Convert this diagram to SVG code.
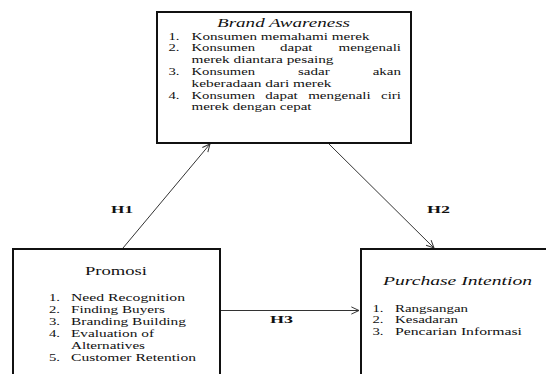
<svg xmlns="http://www.w3.org/2000/svg" width="546" height="374" viewBox="0 0 546 374">
<style>
text{font-family:"Liberation Serif","DejaVu Serif","Times New Roman",serif;fill:#111}
.t{font-size:11px}
.ti{font-size:12px;font-style:italic}
.tp{font-size:12.5px}
.h{font-size:11px;font-weight:bold}
.box{fill:#fff;stroke:#111;stroke-width:2}
.c{fill:none;stroke:#333;stroke-width:1}
</style>
<defs>
<marker id="arr" viewBox="0 0 10 10" refX="9.5" refY="5" markerWidth="9" markerHeight="9" markerUnits="userSpaceOnUse" orient="auto">
<path d="M1,1 L9.5,5 L1,9" fill="none" stroke="#333" stroke-width="1.1"/>
</marker>
</defs>
<rect width="546" height="374" fill="#fff"/>

<g id="connectors">
<line class="c" x1="123" y1="248" x2="210" y2="144" marker-end="url(#arr)"/>
<line class="c" x1="329" y1="144" x2="434" y2="248" marker-end="url(#arr)"/>
<line class="c" x1="221" y1="310.5" x2="359" y2="310.5" marker-end="url(#arr)"/>
<text class="h" x="111" y="213" textLength="22" lengthAdjust="spacingAndGlyphs">H1</text>
<text class="h" x="427" y="213" textLength="23" lengthAdjust="spacingAndGlyphs">H2</text>
<text class="h" x="270" y="323" textLength="23" lengthAdjust="spacingAndGlyphs">H3</text>
</g>

<g id="brand-awareness">
<rect class="box" x="157" y="12" width="254" height="131"/>
<text class="ti" x="217" y="27" textLength="133" lengthAdjust="spacingAndGlyphs">Brand Awareness</text>
<text class="t" x="168.5" y="39.5" textLength="11" lengthAdjust="spacingAndGlyphs">1.</text>
<text class="t" x="191.5" y="39.5" textLength="178" lengthAdjust="spacingAndGlyphs">Konsumen memahami merek</text>
<text class="t" x="168.5" y="51.3" textLength="11" lengthAdjust="spacingAndGlyphs">2.</text>
<text class="t" x="191.5" y="51.3" textLength="63.5" lengthAdjust="spacingAndGlyphs">Konsumen</text>
<text class="t" x="280" y="51.3" textLength="32.5" lengthAdjust="spacingAndGlyphs">dapat</text>
<text class="t" x="338.5" y="51.3" textLength="62.5" lengthAdjust="spacingAndGlyphs">mengenali</text>
<text class="t" x="191.5" y="63.1" textLength="142" lengthAdjust="spacingAndGlyphs">merek diantara pesaing</text>
<text class="t" x="168.5" y="74.9" textLength="11" lengthAdjust="spacingAndGlyphs">3.</text>
<text class="t" x="191.5" y="74.9" textLength="63.5" lengthAdjust="spacingAndGlyphs">Konsumen</text>
<text class="t" x="298" y="74.9" textLength="31.7" lengthAdjust="spacingAndGlyphs">sadar</text>
<text class="t" x="372.7" y="74.9" textLength="28.3" lengthAdjust="spacingAndGlyphs">akan</text>
<text class="t" x="191.5" y="86.7" textLength="140" lengthAdjust="spacingAndGlyphs">keberadaan dari merek</text>
<text class="t" x="168.5" y="98.5" textLength="11" lengthAdjust="spacingAndGlyphs">4.</text>
<text class="t" x="191.5" y="98.5" textLength="63.5" lengthAdjust="spacingAndGlyphs">Konsumen</text>
<text class="t" x="265.3" y="98.5" textLength="32.5" lengthAdjust="spacingAndGlyphs">dapat</text>
<text class="t" x="308.2" y="98.5" textLength="62.5" lengthAdjust="spacingAndGlyphs">mengenali</text>
<text class="t" x="381" y="98.5" textLength="20" lengthAdjust="spacingAndGlyphs">ciri</text>
<text class="t" x="191.5" y="110.3" textLength="120" lengthAdjust="spacingAndGlyphs">merek dengan cepat</text>
</g>

<g id="promosi">
<rect class="box" x="13" y="249" width="207" height="140"/>
<text class="tp" x="85" y="275" textLength="62" lengthAdjust="spacingAndGlyphs">Promosi</text>
<text class="t" x="49" y="301" textLength="11" lengthAdjust="spacingAndGlyphs">1.</text>
<text class="t" x="71" y="301" textLength="114" lengthAdjust="spacingAndGlyphs">Need Recognition</text>
<text class="t" x="49" y="313" textLength="11" lengthAdjust="spacingAndGlyphs">2.</text>
<text class="t" x="71" y="313" textLength="94" lengthAdjust="spacingAndGlyphs">Finding Buyers</text>
<text class="t" x="49" y="325" textLength="11" lengthAdjust="spacingAndGlyphs">3.</text>
<text class="t" x="71" y="325" textLength="115" lengthAdjust="spacingAndGlyphs">Branding Building</text>
<text class="t" x="49" y="337" textLength="11" lengthAdjust="spacingAndGlyphs">4.</text>
<text class="t" x="71" y="337" textLength="83" lengthAdjust="spacingAndGlyphs">Evaluation of</text>
<text class="t" x="71" y="349" textLength="74" lengthAdjust="spacingAndGlyphs">Alternatives</text>
<text class="t" x="49" y="361" textLength="11" lengthAdjust="spacingAndGlyphs">5.</text>
<text class="t" x="71" y="361" textLength="125" lengthAdjust="spacingAndGlyphs">Customer Retention</text>
</g>

<g id="purchase-intention">
<rect class="box" x="361" y="249" width="200" height="140"/>
<text class="ti" x="383" y="285" textLength="149" lengthAdjust="spacingAndGlyphs">Purchase Intention</text>
<text class="t" x="372.5" y="311.5" textLength="11" lengthAdjust="spacingAndGlyphs">1.</text>
<text class="t" x="395" y="311.5" textLength="73" lengthAdjust="spacingAndGlyphs">Rangsangan</text>
<text class="t" x="372.5" y="323.3" textLength="11" lengthAdjust="spacingAndGlyphs">2.</text>
<text class="t" x="395" y="323.3" textLength="63" lengthAdjust="spacingAndGlyphs">Kesadaran</text>
<text class="t" x="372.5" y="335" textLength="11" lengthAdjust="spacingAndGlyphs">3.</text>
<text class="t" x="395" y="335" textLength="127" lengthAdjust="spacingAndGlyphs">Pencarian Informasi</text>
</g>
</svg>
